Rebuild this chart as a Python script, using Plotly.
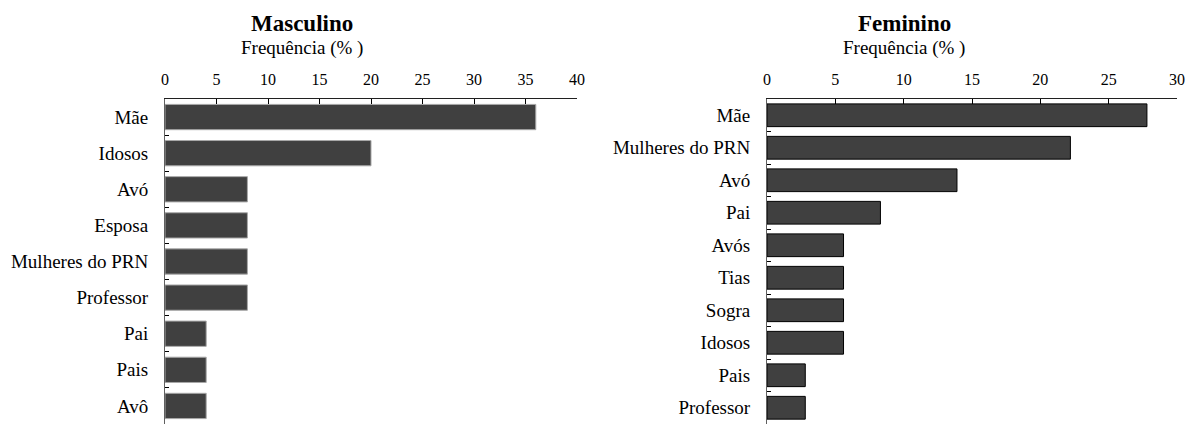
import plotly.graph_objects as go

# Frequência (%) das pessoas citadas, por sexo
masc_labels = ["Mãe", "Idosos", "Avó", "Esposa", "Mulheres do PRN", "Professor", "Pai", "Pais", "Avô"]
masc_values = [36, 20, 8, 8, 8, 8, 4, 4, 4]

fem_labels = ["Mãe", "Mulheres do PRN", "Avó", "Pai", "Avós", "Tias", "Sogra", "Idosos", "Pais", "Professor"]
fem_values = [27.8, 22.2, 13.9, 8.3, 5.6, 5.6, 5.6, 5.6, 2.8, 2.8]

masc_ticks = [0, 5, 10, 15, 20, 25, 30, 35, 40]
fem_ticks = [0, 5, 10, 15, 20, 25, 30]

W, H = 1197, 424
FONT = "'Liberation Serif', 'Times New Roman', serif"
BAR = "#404040"

fig = go.Figure()
fig.add_trace(go.Bar(
    x=masc_values, y=masc_labels, orientation="h", width=0.7,
    marker=dict(color=BAR, line=dict(color="#a8a8a8", width=1)),
    xaxis="x", yaxis="y", showlegend=False,
))
fig.add_trace(go.Bar(
    x=fem_values, y=fem_labels, orientation="h", width=0.7,
    marker=dict(color=BAR, line=dict(color="#000000", width=1)),
    xaxis="x2", yaxis="y2", showlegend=False,
))

y_top = 1 - 99 / H
dom_l = [165 / W, 577 / W]
dom_r = [767 / W, 1177 / W]


def xaxis(dom, ticks, anchor):
    return dict(
        domain=dom, anchor=anchor, side="top", range=[0, ticks[-1]],
        tickvals=ticks, ticktext=[str(t) for t in ticks],
        ticks="inside", ticklen=5, tickcolor="#000000", tickwidth=1,
        showline=True, linecolor="#202020", linewidth=1,
        showgrid=False, zeroline=False, automargin=False,
        tickfont=dict(family=FONT, size=16, color="#000000"),
        ticklabelstandoff=7,
    )


def yaxis(anchor, cats):
    return dict(
        domain=[0, y_top], anchor=anchor, type="category",
        categoryorder="array", categoryarray=cats, autorange="reversed",
        ticks="inside", tickson="boundaries", ticklen=4,
        tickcolor="#000000", tickwidth=1,
        showline=True, linecolor="#606060", linewidth=1,
        showgrid=False, zeroline=False, automargin=False,
        tickfont=dict(family=FONT, size=19, color="#000000"),
        ticklabelstandoff=12,
    )


fig.update_layout(
    width=W, height=H,
    margin=dict(l=0, r=0, t=0, b=0),
    paper_bgcolor="white", plot_bgcolor="white",
    font=dict(family=FONT, color="#000000"),
    bargap=0.3,
    xaxis=xaxis(dom_l, masc_ticks, "y"),
    yaxis=yaxis("x", masc_labels),
    xaxis2=xaxis(dom_r, fem_ticks, "y2"),
    yaxis2=yaxis("x2", fem_labels),
)

for cx, title in [(302, "Masculino"), (904, "Feminino")]:
    fig.add_annotation(
        x=cx / W, y=1 - 24 / H, xref="paper", yref="paper",
        xanchor="center", yanchor="middle", showarrow=False,
        text=f"<b>{title}</b>", font=dict(family=FONT, size=23, color="#000000"),
    )
    fig.add_annotation(
        x=cx / W, y=1 - 48 / H, xref="paper", yref="paper",
        xanchor="center", yanchor="middle", showarrow=False,
        text="Frequência (% )", font=dict(family=FONT, size=19, color="#000000"),
    )

fig.write_html("out.html")
